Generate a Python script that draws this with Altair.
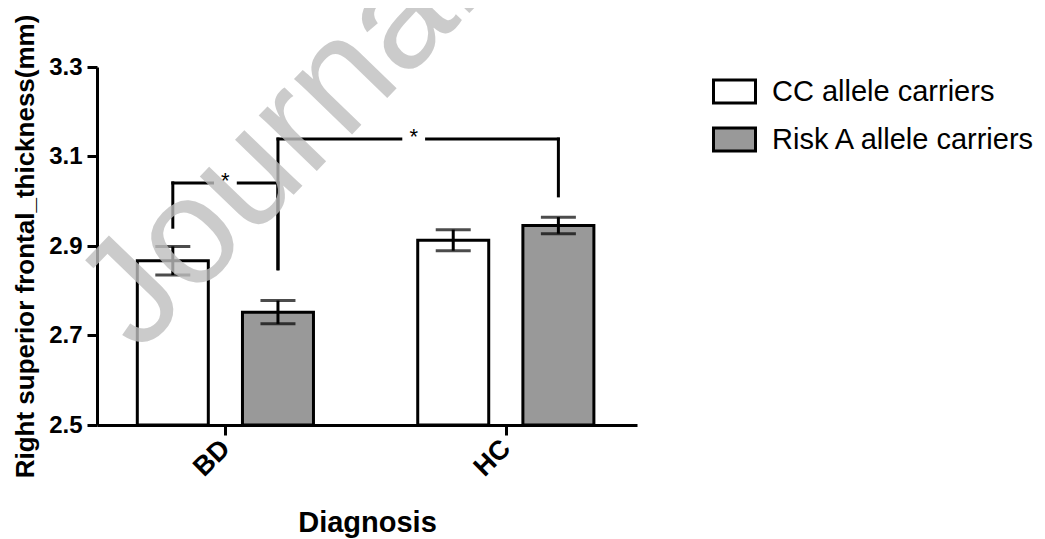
import json
import altair as alt
import pandas as pd

# ---------------- data ----------------
groups = ["BD", "HC"]
series = ["CC allele carriers", "Risk A allele carriers"]
bd_mean = [2.867, 2.752]
hc_mean = [2.913, 2.946]
bd_sem = [0.032, 0.026]
hc_sem = [0.0235, 0.0185]
y_ticks = [2.5, 2.7, 2.9, 3.1, 3.3]

# significance brackets: ends (group, series index), bracket height, leg ends
br_left_group = ["BD", "BD"]
br_left_series = [0, 1]
br_right_group = ["BD", "HC"]
br_right_series = [1, 1]
br_top = [3.041, 3.139]
br_left_end = [2.942, 2.849]
br_right_end = [2.849, 3.012]
br_label = ["*", "*"]
br_star_frac = [0.5, 0.484]   # where the star sits along each bracket

watermark = "Journal Pre-proof"

# ---------------- layout constants ----------------
OFFSET = [-0.1875, 0.1875]   # series offset within a group (group units)
GAP = 0.046                  # half-gap around the star on bracket lines
FONT = "Liberation Sans"

means = [bd_mean, hc_mean]
sems = [bd_sem, hc_sem]

rows = []
for gi, g in enumerate(groups):
    for si, s in enumerate(series):
        m = means[gi][si]
        e = sems[gi][si]
        rows.append({"group": g, "series": s, "mean": m, "sem": e,
                     "pos": gi + OFFSET[si], "lo": m - e, "hi": m + e})
df = pd.DataFrame(rows)


def xpos(g, si):
    return groups.index(g) + OFFSET[si]


segs = []
stars = []
for i in range(len(br_top)):
    xl = xpos(br_left_group[i], br_left_series[i])
    xr = xpos(br_right_group[i], br_right_series[i])
    top = br_top[i]
    mid = xl + (xr - xl) * br_star_frac[i]
    segs.append({"x": xl, "x2": xl, "y": br_left_end[i], "y2": top})
    segs.append({"x": xr, "x2": xr, "y": br_right_end[i], "y2": top})
    segs.append({"x": xl, "x2": mid - GAP, "y": top, "y2": top})
    segs.append({"x": mid + GAP, "x2": xr, "y": top, "y2": top})
    stars.append({"x": mid, "y": top, "t": br_label[i]})
seg_df = pd.DataFrame(segs)
star_df = pd.DataFrame(stars)

xscale = alt.Scale(domain=[-0.44, 1.45], nice=False, zero=False)
yscale = alt.Scale(domain=[2.5, 3.3], nice=False, zero=False)

xaxis = alt.Axis(
    values=[0, 1],
    labelExpr=json.dumps(groups) + "[datum.value]",
    labelAngle=315, labelAlign="right", labelBaseline="middle",
    labelFontSize=27, labelFontWeight="bold", labelPadding=9,
    labelOverlap=False, labelFlush=False,
    tickSize=10, grid=False,
    titleFontSize=29, titleFontWeight="bold",
    titleY=106.5, titleBaseline="alphabetic",
)
yaxis = alt.Axis(
    values=y_ticks, format=".1f",
    labelFontSize=24, labelFontWeight="bold", labelPadding=5,
    labelOverlap=False,
    tickSize=10, grid=False,
    titleFontSize=26, titleFontWeight="bold",
    titleX=-72, titleBaseline="middle",
)

legend = alt.Legend(
    title=None, orient="none", legendX=615, legendY=2,
    symbolType="M-1,-0.55H1V0.55H-1Z", symbolSize=1764,
    symbolStrokeColor="black", symbolStrokeWidth=3, symbolOpacity=1,
    labelFontSize=29, labelFont=FONT, labelColor="black", labelLimit=0,
    labelOffset=15, rowPadding=7, padding=0,
)

bars = alt.Chart(df).mark_bar(size=71, stroke="black", strokeWidth=3, opacity=1).encode(
    x=alt.X("pos:Q", scale=xscale, axis=xaxis, title="Diagnosis"),
    y=alt.Y("mean:Q", scale=yscale, axis=yaxis,
            title="Right superior frontal_thickness(mm)"),
    y2=alt.datum(2.5),
    color=alt.Color("series:N", scale=alt.Scale(domain=series, range=["#ffffff", "#999999"]),
                    legend=legend),
)

err = alt.Chart(df).mark_rule(color="black", strokeWidth=3).encode(
    x="pos:Q", y="lo:Q", y2="hi:Q")

caps_lo = alt.Chart(df).mark_tick(orient="horizontal", size=35, thickness=3, color="black").encode(
    x="pos:Q", y="lo:Q")
caps_hi = alt.Chart(df).mark_tick(orient="horizontal", size=35, thickness=3, color="black").encode(
    x="pos:Q", y="hi:Q")

brackets = alt.Chart(seg_df).mark_rule(color="black", strokeWidth=3, strokeCap="square").encode(
    x="x:Q", x2="x2:Q", y="y:Q", y2="y2:Q")

star_text = alt.Chart(star_df).mark_text(fontSize=22, font=FONT, color="black",
                                         baseline="alphabetic", dy=5).encode(
    x="x:Q", y="y:Q", text="t:N")

wm = alt.Chart(pd.DataFrame({"t": [watermark]})).mark_text(
    angle=314, fontSize=152, font=FONT, color="#bfbfbf", opacity=0.8,
    align="left", baseline="alphabetic").encode(
    x=alt.datum(-0.307), y=alt.datum(2.657), text="t:N")

chart = alt.layer(bars, err, caps_lo, caps_hi, brackets, wm, star_text).properties(
    width=540, height=358,
    padding={"left": 89, "top": 59, "right": 400, "bottom": 114},
    autosize=alt.AutoSizeParams(type="none"),
).configure(
    font=FONT,
).configure_view(stroke=None).configure_axis(
    domainColor="black", domainWidth=3, tickColor="black", tickWidth=3,
    labelColor="black", titleColor="black", labelFont=FONT, titleFont=FONT,
)

chart.save("out.html", embed_options={"renderer": "svg", "actions": False})
